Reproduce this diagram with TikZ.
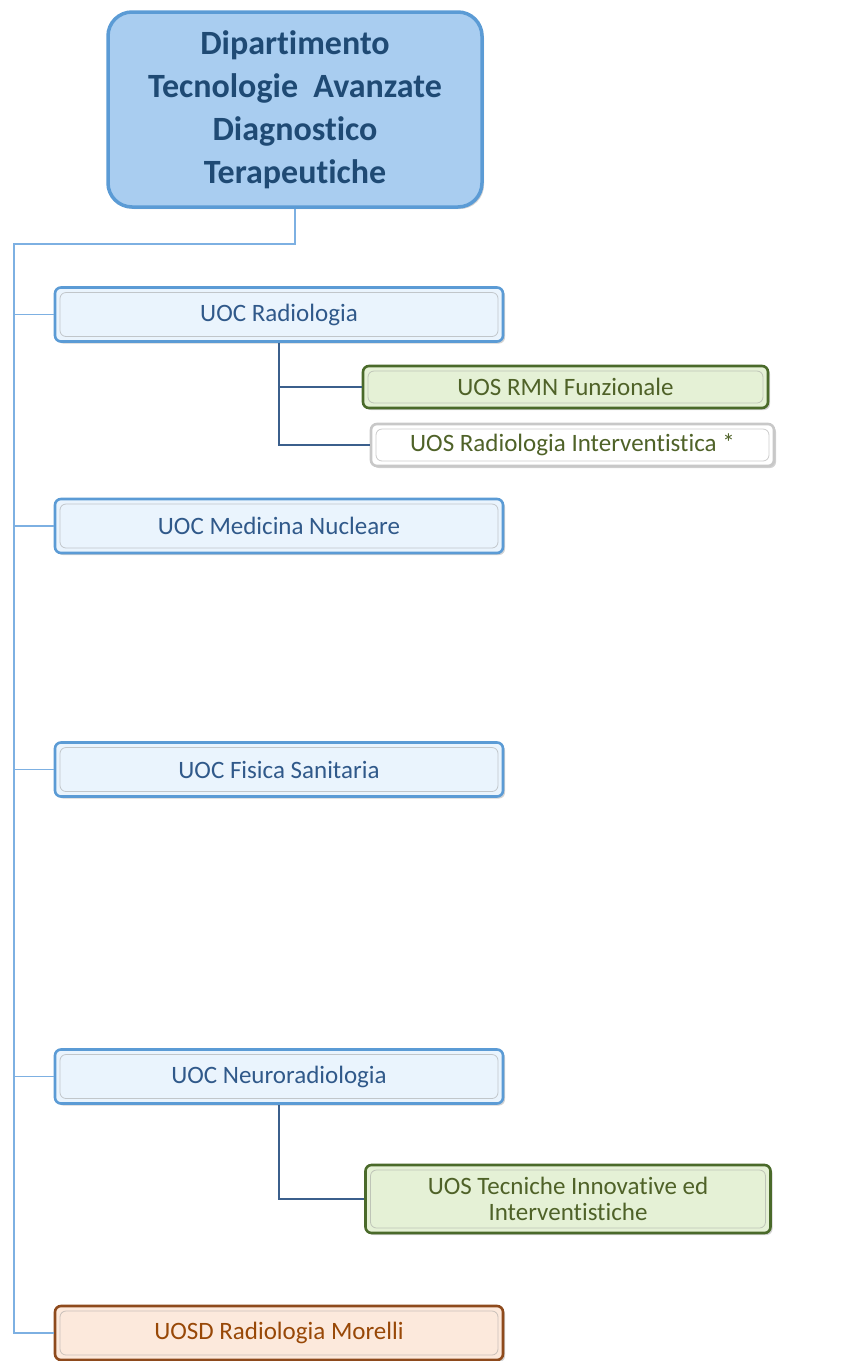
\documentclass[tikz,border=0pt]{standalone}
\usepackage{fontspec}
\setmainfont{Carlito}[Ligatures=NoCommon]
\usetikzlibrary{shadows}

\definecolor{deptfill}{HTML}{A9CDF0}
\definecolor{deptdraw}{HTML}{5B9BD5}
\definecolor{depttext}{HTML}{1F4A74}
\definecolor{uocfill}{HTML}{EAF4FD}
\definecolor{uocdraw}{HTML}{5B9BD5}
\definecolor{uoctext}{HTML}{30598A}
\definecolor{uosfill}{HTML}{E5F1D6}
\definecolor{uosdraw}{HTML}{4A6A2A}
\definecolor{uostext}{HTML}{4F6228}
\definecolor{greydraw}{HTML}{C8C8C8}
\definecolor{uosdfill}{HTML}{FCE9DC}
\definecolor{uosddraw}{HTML}{8E4A1C}
\definecolor{uosdtext}{HTML}{984807}
\definecolor{trunkline}{HTML}{7DB0E2}
\definecolor{subline}{HTML}{3B5F8C}

\tikzset{
  unitbox/.style={draw, line width=2.6pt, rounded corners=6pt, align=center,
    drop shadow={opacity=0.35, shadow xshift=2pt, shadow yshift=-2pt},
    path picture={\draw[black!40, opacity=0.5, line width=0.8pt]
      ([xshift=5pt,yshift=-5pt]path picture bounding box.north west) rectangle
      ([xshift=-5pt,yshift=5pt]path picture bounding box.south east);},
    font=\fontsize{25}{26}\selectfont},
  uocbox/.style={unitbox, fill=uocfill, draw=uocdraw, text=uoctext,
    minimum width=448pt, minimum height=54pt},
  uosbox/.style={unitbox, fill=uosfill, draw=uosdraw, text=uostext,
    minimum width=405pt},
  uosgrey/.style={unitbox, fill=white, draw=greydraw, text=uostext,
    minimum width=403pt, minimum height=42pt},
  uosdbox/.style={unitbox, fill=uosdfill, draw=uosddraw, text=uosdtext,
    minimum width=448pt, minimum height=54pt},
  trunk/.style={draw=trunkline, line width=1.3pt},
  sub/.style={draw=subline, line width=1.3pt}
}

\begin{document}
\begin{tikzpicture}[x=1pt,y=-1pt]
  % canvas
  \useasboundingbox (0,0) rectangle (841,1361);
  \def\trunkx{14}
  \def\trunky{244}

  % Dipartimento
  \node[unitbox, fill=deptfill, draw=deptdraw, text=depttext, line width=3.5pt,
    rounded corners=24pt, minimum width=374pt, minimum height=195pt,
    path picture={}, font=\fontsize{34}{43}\selectfont\bfseries] (dept) at (295,109.5)
    {Dipartimento\\Tecnologie~~Avanzate\\Diagnostico\\Terapeutiche};

  % UOC
  \node[uocbox] (radio) at (279,314.5) {UOC Radiologia};
  \node[uocbox] (nucl) at (279,526) {UOC Medicina Nucleare};
  \node[uocbox] (fisica) at (279,769.5) {UOC Fisica Sanitaria};
  \node[uocbox] (neuro) at (279,1076.5) {UOC Neuroradiologia};
  \node[uosdbox] (morelli) at (279,1333) {UOSD Radiologia Morelli};

  % UOS
  \node[uosbox, minimum height=42pt] (rmn) at (565.5,387) {UOS RMN Funzionale};
  \node[uosgrey] (interv) at (572.5,445) {UOS Radiologia Interventistica *};
  \node[uosbox, minimum height=68pt] (tecn) at (568,1199)
    {UOS Tecniche Innovative ed\\Interventistiche};

  % trunk
  \coordinate (trunktop) at (\trunkx,\trunky);
  \draw[trunk] (dept.south) |- (trunktop) |- (morelli.west);
  \foreach \u in {radio,nucl,fisica,neuro}
    \draw[trunk] (trunktop |- \u.west) -- (\u.west);

  % sub units
  \draw[sub] (radio.south) |- (rmn.west);
  \draw[sub] (radio.south) |- (interv.west);
  \draw[sub] (neuro.south) |- (tecn.west);
\end{tikzpicture}
\end{document}
